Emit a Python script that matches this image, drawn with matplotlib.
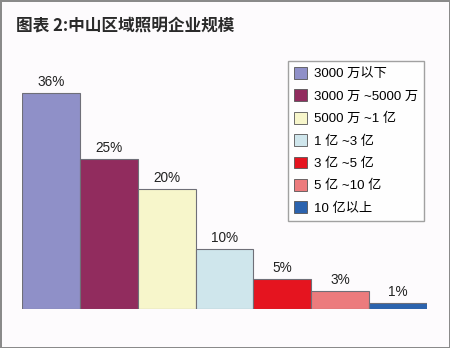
import matplotlib.pyplot as plt
from matplotlib.patches import Patch

plt.rcParams['font.family'] = ['Liberation Sans', 'Noto Sans CJK SC', 'DejaVu Sans']

# data
categories = ['3000 万以下', '3000 万 ~5000 万', '5000 万 ~1 亿', '1 亿 ~3 亿',
              '3 亿 ~5 亿', '5 亿 ~10 亿', '10 亿以上']
shares = [36, 25, 20, 10, 5, 3, 1]
colors = ['#8f90c8', '#912c5e', '#f7f6cb', '#cfe6ec', '#e5141f', '#ec7b7d', '#2b63ae']
title = '图表 2:中山区域照明企业规模'

fig = plt.figure(figsize=(4.5, 3.48), dpi=100)
fig.patch.set_facecolor('#fdfbfd')
fig.patch.set_edgecolor('#8a8a8a')
fig.patch.set_linewidth(2)

ax = fig.add_axes([22 / 450, 39 / 348, 405 / 450, 249 / 348])
ax.set_facecolor('none')
x = list(range(len(shares)))
bars = ax.bar(x, shares, width=1.0, color=colors, edgecolor='#6f6f78', linewidth=0.8)
for xi, v in zip(x, shares):
    ax.text(xi, v + 0.6, f'{v}%', ha='center', va='bottom', fontsize=9.8, color='#222222')
ax.set_xlim(-0.5, 6.5)
ax.set_ylim(0, 41.5)
ax.axis('off')

fig.text(16 / 450, 1 - 25 / 348, title, fontsize=12, fontweight='bold',
         family=['Noto Sans CJK SC', 'DejaVu Sans'],
         ha='left', va='center', color='#2a2a2a')

handles = [Patch(facecolor=c, edgecolor='#555555', linewidth=0.6) for c in colors]
leg = fig.legend(handles, categories, loc='upper right',
                 bbox_to_anchor=(424 / 450, 1 - 61 / 348), fontsize=9.5,
                 frameon=True, fancybox=False, edgecolor='#8a8a8a',
                 handlelength=1.0, handleheight=1.0, handletextpad=0.5,
                 labelspacing=0.68, borderpad=0.45, borderaxespad=0)
leg.get_frame().set_linewidth(1.0)
leg.get_frame().set_facecolor('white')

fig.savefig('out.png', dpi=100, facecolor=fig.get_facecolor(), edgecolor=fig.get_edgecolor())
